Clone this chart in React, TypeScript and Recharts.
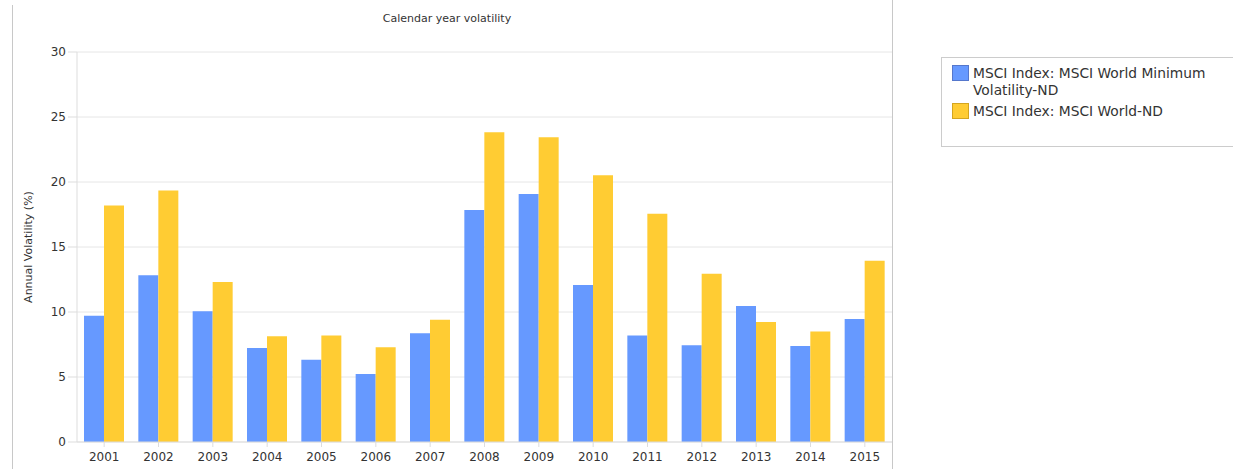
import React from 'react';
import { BarChart, Bar, XAxis, YAxis, CartesianGrid, Label } from 'recharts';

const years = ['2001', '2002', '2003', '2004', '2005', '2006', '2007', '2008', '2009', '2010', '2011', '2012', '2013', '2014', '2015'];
const minVolatility = [9.72, 12.82, 10.05, 7.23, 6.33, 5.23, 8.37, 17.85, 19.08, 12.07, 8.2, 7.45, 10.47, 7.38, 9.47];
const worldIndex = [18.2, 19.35, 12.3, 8.13, 8.2, 7.28, 9.4, 23.82, 23.44, 20.51, 17.56, 12.95, 9.24, 8.5, 13.95];
const yTicks = [0, 5, 10, 15, 20, 25, 30];

const seriesNames = ['MSCI Index: MSCI World Minimum Volatility-ND', 'MSCI Index: MSCI World-ND'];
const seriesColors = ['#6699ff', '#ffcc33'];

const FONT = 'Tahoma, "DejaVu Sans", Verdana, sans-serif';

const chartData = years.map((year, i) => ({
  year,
  minVol: minVolatility[i],
  world: worldIndex[i],
}));

function LegendBox() {
  return (
    <div
      style={{
        position: 'absolute',
        left: 941,
        top: 57,
        width: 300,
        height: 90,
        border: '1px solid #cccccc',
        boxSizing: 'border-box',
        padding: '7px 0 0 10px',
        fontSize: 13.8,
        color: '#333',
        lineHeight: '17px',
      }}
    >
      {seriesNames.map((name, i) => (
        <div key={name} style={{ display: 'flex', alignItems: 'flex-start', marginBottom: 4 }}>
          <span
            style={{
              display: 'inline-block',
              width: 17,
              height: 16,
              background: seriesColors[i],
              border: '1px solid ' + (i === 0 ? '#5577cc' : '#d4a520'),
              boxSizing: 'border-box',
              marginRight: 4,
              flexShrink: 0,
            }}
          />
          <span style={{ width: 250 }}>{name}</span>
        </div>
      ))}
    </div>
  );
}

export default function App() {
  return (
    <div
      style={{
        position: 'absolute',
        left: 0,
        top: 0,
        width: 1233,
        height: 469,
        background: '#fff',
        fontFamily: FONT,
        overflow: 'hidden',
      }}
    >
      {/* panel borders */}
      <div style={{ position: 'absolute', left: 12, top: 5, width: 1, height: 464, background: '#c8c8c8' }} />
      <div style={{ position: 'absolute', left: 892, top: 0, width: 1, height: 469, background: '#c8c8c8' }} />

      <div
        style={{
          position: 'absolute',
          left: 12,
          width: 870,
          top: 12,
          textAlign: 'center',
          fontSize: 11,
          color: '#333',
        }}
      >
        Calendar year volatility
      </div>

      <BarChart
        width={1233}
        height={469}
        data={chartData}
        margin={{ top: 52, right: 341, bottom: 0, left: 12 }}
        barGap={0}
        barSize={20}
      >
        <CartesianGrid vertical={false} stroke="#e6e6e6" />
        <XAxis
          dataKey="year"
          height={27}
          stroke="#dddddd"
          tickSize={5}
          tickMargin={5}
          tick={{ fill: '#333', fontSize: 12, fontFamily: FONT }}
          interval={0}
        />
        <YAxis
          width={65}
          domain={[0, 30]}
          ticks={yTicks}
          stroke="#dddddd"
          tickSize={9}
          tick={{ fill: '#333', fontSize: 12, fontFamily: FONT }}
          interval={0}
        >
          <Label
            value="Annual Volatility (%)"
            angle={-90}
            position="center"
            dx={-16}
            style={{ fill: '#333', fontSize: 11, fontFamily: FONT }}
          />
        </YAxis>
        <Bar dataKey="minVol" name={seriesNames[0]} fill={seriesColors[0]} isAnimationActive={false} />
        <Bar dataKey="world" name={seriesNames[1]} fill={seriesColors[1]} isAnimationActive={false} />
      </BarChart>

      <LegendBox />
    </div>
  );
}
